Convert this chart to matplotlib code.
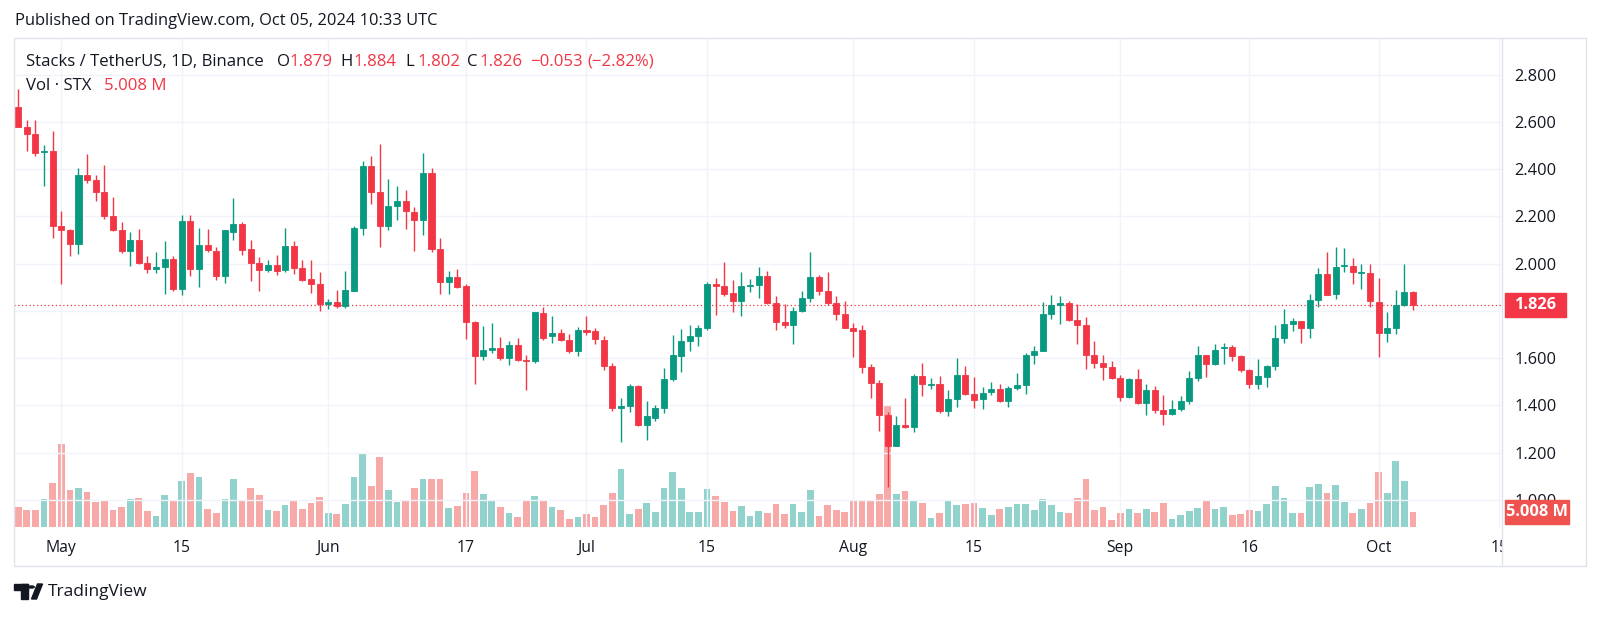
import matplotlib
matplotlib.use("Agg")
import matplotlib.pyplot as plt
from matplotlib.patches import Rectangle, Circle, Polygon
from matplotlib.lines import Line2D
import numpy as np
import pandas as pd

plt.rcParams['font.family'] = ['Open Sans', 'DejaVu Sans']

# daily STX/USDT candles, 2024-04-26 .. 2024-10-05
start_date = '2024-04-26'
opens = [2.661, 2.580, 2.548, 2.474, 2.475, 2.161, 2.140, 2.082, 2.376, 2.354,
         2.301, 2.200, 2.140, 2.055, 2.100, 2.001, 1.977, 1.985, 2.020, 1.893,
         2.182, 1.977, 2.080, 2.055, 1.949, 2.135, 2.169, 2.063, 2.003, 1.973,
         1.996, 1.973, 2.076, 1.983, 1.935, 1.914, 1.827, 1.837, 1.820, 1.886,
         2.149, 2.411, 2.301, 2.159, 2.245, 2.265, 2.220, 2.185, 2.383, 2.062,
         1.921, 1.942, 1.903, 1.752, 1.608, 1.635, 1.644, 1.601, 1.656, 1.590,
         1.587, 1.791, 1.692, 1.707, 1.675, 1.630, 1.720, 1.713, 1.675, 1.566,
         1.389, 1.396, 1.482, 1.318, 1.346, 1.389, 1.510, 1.608, 1.672, 1.692,
         1.727, 1.914, 1.907, 1.876, 1.841, 1.904, 1.908, 1.949, 1.832, 1.752,
         1.741, 1.799, 1.854, 1.942, 1.886, 1.832, 1.785, 1.728, 1.717, 1.562,
         1.494, 1.361, 1.228, 1.316, 1.307, 1.525, 1.488, 1.492, 1.375, 1.425,
         1.528, 1.446, 1.425, 1.456, 1.468, 1.418, 1.473, 1.485, 1.611, 1.630,
         1.785, 1.824, 1.834, 1.761, 1.742, 1.614, 1.579, 1.562, 1.517, 1.435,
         1.513, 1.411, 1.466, 1.379, 1.365, 1.383, 1.417, 1.515, 1.611, 1.573,
         1.641, 1.646, 1.607, 1.551, 1.489, 1.520, 1.565, 1.686, 1.743, 1.756,
         1.727, 1.844, 1.956, 1.872, 1.988, 1.990, 1.959, 1.961, 1.837, 1.707,
         1.728, 1.825, 1.879]
highs = [2.738, 2.607, 2.607, 2.501, 2.562, 2.221, 2.147, 2.403, 2.465, 2.376,
         2.417, 2.283, 2.175, 2.132, 2.145, 2.034, 2.048, 2.097, 2.034, 2.206,
         2.206, 2.149, 2.146, 2.069, 2.143, 2.279, 2.177, 2.101, 2.028, 2.013,
         2.037, 2.149, 2.097, 2.013, 2.017, 1.963, 1.851, 1.890, 1.970, 2.161,
         2.435, 2.456, 2.508, 2.358, 2.330, 2.311, 2.241, 2.468, 2.403, 2.107,
         1.970, 1.977, 1.914, 1.759, 1.735, 1.749, 1.689, 1.672, 1.685, 1.611,
         1.797, 1.818, 1.777, 1.721, 1.700, 1.731, 1.777, 1.728, 1.692, 1.580,
         1.432, 1.489, 1.484, 1.418, 1.400, 1.559, 1.696, 1.721, 1.738, 1.738,
         1.921, 1.940, 2.008, 1.931, 1.963, 1.935, 1.987, 1.970, 1.862, 1.830,
         1.818, 1.882, 2.048, 1.953, 1.966, 1.863, 1.841, 1.749, 1.738, 1.576,
         1.506, 1.372, 1.354, 1.430, 1.534, 1.580, 1.517, 1.525, 1.466, 1.599,
         1.567, 1.521, 1.477, 1.499, 1.489, 1.482, 1.537, 1.621, 1.651, 1.839,
         1.866, 1.863, 1.841, 1.830, 1.773, 1.672, 1.615, 1.586, 1.527, 1.517,
         1.555, 1.489, 1.482, 1.442, 1.421, 1.438, 1.544, 1.649, 1.613, 1.658,
         1.665, 1.654, 1.614, 1.553, 1.594, 1.569, 1.741, 1.808, 1.770, 1.759,
         1.872, 1.982, 2.048, 2.072, 2.065, 2.024, 1.999, 1.999, 1.940, 1.797,
         1.889, 1.999, 1.884]
lows = [2.576, 2.477, 2.454, 2.330, 2.107, 1.914, 2.030, 2.041, 2.341, 2.266,
        2.189, 2.138, 2.045, 1.989, 1.999, 1.961, 1.961, 1.872, 1.886, 1.868,
        1.949, 1.900, 2.048, 1.932, 1.917, 2.099, 2.038, 1.928, 1.886, 1.963,
        1.952, 1.966, 1.956, 1.928, 1.876, 1.799, 1.808, 1.813, 1.813, 1.882,
        2.123, 2.252, 2.069, 2.144, 2.185, 2.146, 2.055, 2.123, 2.048, 1.872,
        1.872, 1.896, 1.682, 1.492, 1.590, 1.623, 1.590, 1.569, 1.587, 1.463,
        1.580, 1.675, 1.665, 1.672, 1.623, 1.608, 1.696, 1.658, 1.551, 1.375,
        1.245, 1.372, 1.313, 1.252, 1.335, 1.368, 1.503, 1.541, 1.632, 1.651,
        1.720, 1.783, 1.862, 1.794, 1.780, 1.879, 1.855, 1.830, 1.720, 1.727,
        1.658, 1.794, 1.837, 1.865, 1.825, 1.763, 1.726, 1.604, 1.538, 1.432,
        1.290, 1.055, 1.226, 1.304, 1.286, 1.441, 1.470, 1.368, 1.355, 1.393,
        1.442, 1.390, 1.386, 1.445, 1.414, 1.393, 1.463, 1.446, 1.576, 1.629,
        1.766, 1.744, 1.756, 1.658, 1.552, 1.559, 1.508, 1.510, 1.418, 1.431,
        1.407, 1.358, 1.369, 1.318, 1.361, 1.375, 1.407, 1.503, 1.520, 1.569,
        1.576, 1.586, 1.541, 1.473, 1.470, 1.477, 1.548, 1.665, 1.714, 1.663,
        1.686, 1.818, 1.866, 1.848, 1.963, 1.914, 1.893, 1.816, 1.604, 1.668,
        1.700, 1.820, 1.802]
closes = [2.580, 2.548, 2.470, 2.476, 2.161, 2.140, 2.082, 2.376, 2.354, 2.301,
          2.200, 2.140, 2.055, 2.100, 2.001, 1.977, 1.987, 2.020, 1.893, 2.182,
          1.977, 2.080, 2.059, 1.949, 2.141, 2.169, 2.059, 2.001, 1.973, 1.996,
          1.969, 2.076, 1.980, 1.932, 1.913, 1.827, 1.837, 1.820, 1.890, 2.152,
          2.411, 2.301, 2.159, 2.245, 2.265, 2.221, 2.185, 2.383, 2.062, 1.921,
          1.942, 1.900, 1.752, 1.608, 1.635, 1.644, 1.601, 1.656, 1.590, 1.587,
          1.794, 1.686, 1.707, 1.675, 1.630, 1.720, 1.710, 1.679, 1.565, 1.389,
          1.397, 1.482, 1.318, 1.354, 1.389, 1.513, 1.611, 1.672, 1.692, 1.728,
          1.914, 1.904, 1.872, 1.841, 1.907, 1.907, 1.949, 1.832, 1.752, 1.741,
          1.801, 1.854, 1.942, 1.886, 1.832, 1.785, 1.728, 1.714, 1.562, 1.494,
          1.361, 1.228, 1.316, 1.307, 1.525, 1.490, 1.492, 1.375, 1.425, 1.528,
          1.446, 1.424, 1.454, 1.470, 1.417, 1.473, 1.487, 1.611, 1.632, 1.785,
          1.824, 1.835, 1.761, 1.742, 1.611, 1.579, 1.562, 1.517, 1.435, 1.513,
          1.411, 1.466, 1.382, 1.365, 1.386, 1.417, 1.517, 1.611, 1.573, 1.635,
          1.645, 1.607, 1.551, 1.489, 1.523, 1.566, 1.686, 1.745, 1.756, 1.727,
          1.844, 1.956, 1.869, 1.987, 1.991, 1.963, 1.962, 1.841, 1.707, 1.728,
          1.825, 1.879, 1.826]
# volume in millions of STX
volumes = [6.5, 5.5, 5.5, 9.0, 14.3, 26.6, 11.9, 12.5, 11.4, 8.1,
           8.6, 5.5, 6.5, 9.0, 9.3, 5.2, 3.7, 10.3, 8.6, 14.8,
           17.5, 16.0, 5.9, 4.7, 9.0, 15.3, 8.4, 12.6, 10.4, 5.5,
           5.2, 7.1, 8.4, 5.9, 7.8, 9.6, 4.7, 4.3, 7.5, 16.0,
           23.3, 13.2, 22.4, 11.9, 8.1, 8.6, 12.6, 15.3, 15.3, 15.3,
           6.2, 6.8, 11.1, 18.1, 10.8, 8.4, 6.5, 4.7, 3.4, 8.6,
           9.9, 8.4, 6.5, 5.5, 2.6, 3.4, 4.3, 3.4, 7.1, 11.1,
           18.6, 4.3, 5.9, 7.8, 5.0, 12.6, 17.8, 12.6, 5.0, 5.0,
           12.3, 9.9, 8.1, 5.3, 6.8, 3.7, 5.3, 4.7, 7.5, 4.3,
           7.5, 5.0, 11.9, 3.7, 7.1, 5.5, 5.0, 8.4, 8.6, 8.6,
           10.8, 38.8, 10.8, 11.6, 8.6, 7.8, 2.9, 4.7, 8.6, 7.1,
           7.5, 7.8, 6.2, 3.9, 5.9, 6.5, 7.5, 7.5, 5.5, 9.0,
           7.1, 5.0, 4.7, 9.3, 15.3, 5.5, 6.5, 2.2, 4.7, 5.9,
           4.7, 5.9, 5.0, 7.8, 2.6, 3.9, 5.3, 6.2, 8.4, 5.9,
           6.5, 3.9, 4.3, 5.5, 5.2, 7.5, 13.2, 9.3, 4.7, 4.7,
           12.9, 13.9, 11.1, 13.5, 8.1, 4.7, 5.9, 7.8, 17.8, 11.1,
           21.2, 14.8, 5.008]

tick_dates = ['2024-05-01', '2024-05-15', '2024-06-01', '2024-06-17', '2024-07-01',
              '2024-07-15', '2024-08-01', '2024-08-15', '2024-09-01', '2024-09-16',
              '2024-10-01', '2024-10-15']
tick_labels = ['May', '15', 'Jun', '17', 'Jul', '15', 'Aug', '15', 'Sep', '16', 'Oct', '15']
price_ticks = [1.0, 1.2, 1.4, 1.6, 1.8, 2.0, 2.2, 2.4, 2.6, 2.8]
last_price = 1.826
last_volume = '5.008 M'
published = 'Published on TradingView.com, Oct 05, 2024 10:33 UTC'
symbol = 'Stacks / TetherUS, 1D, Binance'
ohlc_text = [('O', '1.879'), ('H', '1.884'), ('L', '1.802'), ('C', '1.826')]
change_text = ['\u22120.053', '(\u22122.82%)']

UP = '#089981'
DOWN = '#f23645'
VOL_UP = '#92d2cc'
VOL_DOWN = '#f7a9a7'
TEXT = '#131722'
GRID = '#f0f3fa'
BORDER = '#e0e3eb'

W, H = 1600, 618
fig = plt.figure(figsize=(16, 6.18), dpi=100)
renderer = fig.canvas.get_renderer()


def fx(x):
    return x / W


def fy(y):
    return 1 - y / H


def size_for(s, target, **kw):
    # font size that makes s about target pixels wide
    t = fig.text(0, 0, s, fontsize=10, **kw)
    w = t.get_window_extent(renderer).width
    t.remove()
    return 10 * target / w


o = np.array(opens)
h = np.array(highs)
l = np.array(lows)
c = np.array(closes)
v = np.array(volumes)
x = np.arange(len(o))
up = c >= o
start = pd.Timestamp(start_date)
tick_pos = [(pd.Timestamp(d) - start).days for d in tick_dates]

# plot area in pixels
L, R, T, B = 14, 1502, 38.3, 527.3
FB = 566  # bottom of frame
rect = [fx(L), fy(B), fx(R) - fx(L), fy(T) - fy(B)]
xlim = (-0.49, 172.33)

price_size = size_for('2.800', 42)
time_size = size_for('May', 31)
legend_size = size_for(symbol, 239)
pub_size = size_for(published, 425)
tv_size = size_for('TradingView', 100)

ax = fig.add_axes(rect)
vax = fig.add_axes(rect, sharex=ax)
vax.set_zorder(ax.get_zorder() - 1)
ax.patch.set_visible(False)
vax.axis('off')

# volume
vax.bar(x, v, width=0.78, color=np.where(up, VOL_UP, VOL_DOWN), linewidth=0)
vax.set_ylim(0, 156.4)

# candles
cols = np.where(up, UP, DOWN)
ax.vlines(x, l, h, colors=cols, linewidth=1.0, zorder=3)
body_lo = np.minimum(o, c)
body_h = np.maximum(np.abs(c - o), 0.004)
ax.bar(x, body_h, bottom=body_lo, width=0.7, color=cols, edgecolor=cols,
       linewidth=0.6, zorder=4)

ax.axhline(last_price, color=DOWN, linestyle=(0, (1, 2)), linewidth=0.9, zorder=2)

ax.set_xlim(*xlim)
ax.set_ylim(0.8837, 2.9535)
ax.set_xticks(tick_pos)
ax.set_xticklabels([])
ax.tick_params(axis='x', length=0)
ax.yaxis.tick_right()
ax.set_yticks(price_ticks)
ax.set_yticklabels(['' if abs(p - 1.8) < 1e-9 else f'{p:.3f}' for p in price_ticks])
ax.tick_params(axis='y', length=0, pad=9, labelsize=price_size, labelcolor=TEXT)
ax.grid(True, color=GRID, linewidth=1)
ax.set_axisbelow(True)
for s in ax.spines.values():
    s.set_visible(False)

# time axis row, clipped at the price scale
tax = fig.add_axes([fx(L), fy(FB), fx(R) - fx(L), fy(B) - fy(FB)])
tax.set_xlim(*xlim)
tax.set_ylim(FB, B)
tax.axis('off')
for p, lab in zip(tick_pos, tick_labels):
    tax.text(p, 548, lab, ha='center', va='center', fontsize=time_size, color=TEXT, clip_on=True)

# frame and price scale separator
fig.add_artist(Rectangle((fx(L), fy(FB)), fx(1586) - fx(L), fy(T) - fy(FB),
                         transform=fig.transFigure, fill=False, ec=BORDER, lw=1))
fig.add_artist(Line2D([fx(R), fx(R)], [fy(T), fy(FB)], color=BORDER, lw=1))

# price / volume labels on the scale
for (y0, y1, x1, col, txt) in [(293, 317, 1566, DOWN, f'{last_price:.3f}'),
                               (500, 524, 1569, '#ef5350', last_volume)]:
    x0 = 1505
    fig.add_artist(Rectangle((fx(x0), fy(y1)), fx(x1) - fx(x0), fy(y0) - fy(y1),
                             transform=fig.transFigure, color=col, zorder=5))
    fig.text(fx((x0 + x1) / 2), fy((y0 + y1) / 2), txt, ha='center', va='center',
             color='white', fontsize=price_size, fontweight='bold', zorder=6)

# header texts
fig.text(fx(15), fy(21), published, fontsize=pub_size, color=TEXT, va='center')

fig.text(fx(26), fy(61.5), symbol, fontsize=legend_size, color=TEXT, va='center')
for (letter, val), xp in zip(ohlc_text, [276.7, 340.7, 405, 467]):
    fig.text(fx(xp), fy(61.5), letter, fontsize=legend_size, color=TEXT, va='center')
    fig.text(fx(xp + 12.3), fy(61.5), val, fontsize=legend_size, color=DOWN, va='center')
for txt, xp in zip(change_text, [530, 587]):
    fig.text(fx(xp), fy(61.5), txt, fontsize=legend_size, color=DOWN, va='center')
fig.text(fx(26), fy(86), 'Vol \u00b7 STX', fontsize=legend_size, color=TEXT, va='center')
fig.text(fx(104), fy(86), last_volume, fontsize=legend_size, color=DOWN, va='center')

# TradingView logo
fig.add_artist(Rectangle((fx(14), fy(589.5)), fx(27.5) - fx(14), fy(584) - fy(589.5),
                         transform=fig.transFigure, color=TEXT))
fig.add_artist(Rectangle((fx(21), fy(599)), fx(27.5) - fx(21), fy(584) - fy(599),
                         transform=fig.transFigure, color=TEXT))
fig.add_artist(Circle((fx(31.5), fy(587)), 2.7 / W, transform=fig.transFigure, color=TEXT))
fig.add_artist(Polygon([(fx(31.5), fy(599)), (fx(36.5), fy(599)), (fx(42.5), fy(584)), (fx(37.5), fy(584))],
                       closed=True, transform=fig.transFigure, color=TEXT))
fig.text(fx(48), fy(592), 'TradingView', fontsize=tv_size, color=TEXT, va='center')

fig.savefig('out.png', dpi=100, facecolor='white')
